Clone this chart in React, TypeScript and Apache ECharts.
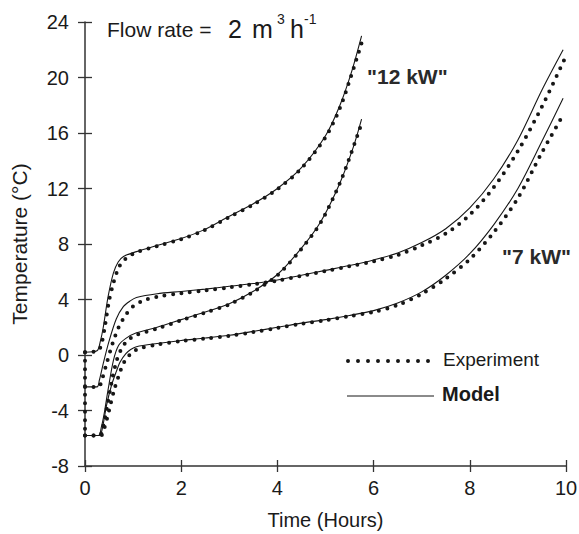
import React, { useEffect, useRef } from "react";
import * as echarts from "echarts";

// ---- data: [time (h), temperature (°C)] ----
const xTicks = [0, 2, 4, 6, 8, 10];
const yTicks = [-8, -4, 0, 4, 8, 12, 16, 20, 24];

const kw12UpperModel = [[0,0.2],[0.25,0.3],[0.32,1.0],[0.38,2.0],[0.48,4.2],[0.59,5.9],[0.69,6.7],[0.8,7.1],[1.07,7.45],[1.5,7.9],[2.0,8.4],[2.46,9.0],[3.0,10.0],[3.5,10.9],[4.0,12.0],[4.5,13.5],[5.0,15.8],[5.3,18.0],[5.55,20.5],[5.75,23.0]];
const kw12UpperExp = [[0,0.2],[0.27,0.3],[0.35,0.9],[0.42,2.2],[0.5,3.9],[0.6,5.3],[0.7,6.3],[0.8,6.8],[0.95,7.2],[1.1,7.45],[1.5,7.85],[2.0,8.35],[2.46,8.95],[3.0,9.95],[3.5,10.85],[4.0,11.95],[4.5,13.45],[5.0,15.7],[5.3,17.8],[5.55,20.3],[5.77,22.7]];

const kw12LowerModel = [[0,-5.8],[0.28,-5.8],[0.34,-5.2],[0.4,-4.2],[0.48,-2.5],[0.59,-0.4],[0.7,0.7],[0.85,1.2],[1.07,1.6],[1.5,2.0],[2.0,2.55],[2.5,3.1],[3.0,3.7],[3.5,4.6],[4.0,5.8],[4.5,7.7],[4.9,9.6],[5.3,12.4],[5.58,15.0],[5.75,17.0]];
const kw12LowerExp = [[0,-5.8],[0.3,-5.8],[0.38,-5.1],[0.45,-3.9],[0.55,-2.0],[0.65,-0.5],[0.75,0.4],[0.87,1.0],[1.07,1.45],[1.5,1.9],[2.0,2.5],[2.5,3.05],[3.0,3.65],[3.5,4.55],[4.0,5.75],[4.5,7.65],[4.9,9.55],[5.3,12.4],[5.58,15.0],[5.77,16.9]];

const kw7UpperModel = [[0,-2.3],[0.25,-2.3],[0.3,-1.8],[0.38,-0.6],[0.5,1.0],[0.65,2.6],[0.8,3.5],[0.94,3.9],[1.07,4.15],[1.5,4.42],[2.0,4.58],[2.5,4.75],[3.0,4.95],[3.5,5.15],[4.0,5.4],[4.5,5.75],[5.0,6.1],[5.5,6.45],[6.0,6.85],[6.5,7.35],[7.0,8.1],[7.5,9.1],[8.0,10.6],[8.5,12.7],[9.0,15.5],[9.5,19.1],[9.94,22.0]];
const kw7UpperExp = [[0,-2.3],[0.28,-2.3],[0.35,-1.8],[0.45,-0.6],[0.57,0.8],[0.7,2.0],[0.85,2.9],[1.0,3.5],[1.2,3.9],[1.5,4.2],[2.0,4.45],[2.5,4.65],[3.0,4.87],[3.5,5.1],[4.0,5.35],[4.5,5.7],[5.0,6.05],[5.5,6.4],[6.0,6.75],[6.5,7.2],[7.0,7.9],[7.5,8.75],[8.0,10.1],[8.5,12.1],[9.0,14.7],[9.5,17.9],[9.98,21.4]];

const kw7LowerModel = [[0,-5.8],[0.3,-5.8],[0.36,-5.3],[0.45,-3.6],[0.55,-2.2],[0.65,-1.2],[0.73,-0.5],[0.85,0.1],[0.95,0.4],[1.07,0.6],[1.5,0.83],[2.0,1.05],[2.5,1.22],[3.0,1.42],[3.5,1.7],[4.0,2.0],[4.5,2.3],[5.0,2.55],[5.5,2.85],[6.0,3.2],[6.5,3.75],[7.0,4.55],[7.5,5.75],[8.0,7.3],[8.5,9.4],[9.0,12.0],[9.5,15.4],[9.94,18.5]];
const kw7LowerExp = [[0,-5.8],[0.33,-5.8],[0.4,-5.3],[0.5,-4.0],[0.6,-2.6],[0.7,-1.5],[0.8,-0.6],[0.9,-0.1],[1.0,0.25],[1.15,0.5],[1.5,0.75],[2.0,1.0],[2.5,1.18],[3.0,1.38],[3.5,1.65],[4.0,1.95],[4.5,2.25],[5.0,2.5],[5.5,2.8],[6.0,3.1],[6.5,3.6],[7.0,4.4],[7.5,5.5],[8.0,6.9],[8.5,8.85],[9.0,11.3],[9.5,14.6],[9.94,17.3]];

const startDropExp = [[0,0.2],[0,-5.8]];

const FONT = "'Liberation Sans', Arial, sans-serif";
const INK = "#161616";

function expSeries(name: string, data: number[][], smooth = true) {
  return {
    name, type: "line", data, xAxisIndex: 0, yAxisIndex: 0,
    showSymbol: false, symbol: "none", smooth: smooth ? 0.3 : false,
    lineStyle: { color: INK, width: 4, type: [0, 8.5], cap: "round" },
    z: 3,
  };
}
function modelSeries(name: string, data: number[][]) {
  return {
    name, type: "line", data, xAxisIndex: 0, yAxisIndex: 0,
    showSymbol: false, symbol: "none", smooth: 0.3,
    lineStyle: { color: INK, width: 1.1 },
    z: 4,
  };
}

export default function App() {
  const ref = useRef<HTMLDivElement>(null);
  useEffect(() => {
    if (!ref.current) return;
    const chart = echarts.init(ref.current, null, { renderer: "svg" });
    const axisCommon = {
      type: "value",
      splitLine: { show: false },
    };
    const tickStyle = { color: "#333", width: 1.3 };
    chart.setOption({
      animation: false,
      backgroundColor: "#ffffff",
      grid: { left: 85, right: 13, top: 22, bottom: 68, containLabel: false, outerBoundsMode: "none" },
      xAxis: [
        {
          ...axisCommon, min: xTicks[0], max: xTicks[xTicks.length - 1], interval: 2,
          axisLine: { show: true, onZero: false, lineStyle: { color: "#333", width: 1.5 } },
          axisTick: { show: true, inside: false, length: 6, lineStyle: tickStyle },
          axisLabel: { color: "#1a1a1a", fontSize: 20, fontFamily: FONT, margin: 12 },
          name: "Time (Hours)", nameLocation: "middle", nameGap: 44,
          nameTextStyle: { color: "#1a1a1a", fontSize: 20, fontFamily: FONT },
        },
        {
          ...axisCommon, min: xTicks[0], max: xTicks[xTicks.length - 1], interval: 2,
          position: "bottom",
          axisLine: { show: false, onZero: false },
          axisTick: { show: true, inside: true, length: 6, lineStyle: tickStyle },
          axisLabel: { show: false },
        },
      ],
      yAxis: [
        {
          ...axisCommon, min: yTicks[0], max: yTicks[yTicks.length - 1], interval: 4,
          axisLine: { show: true, onZero: false, lineStyle: { color: "#333", width: 1.5 } },
          axisTick: { show: true, inside: false, length: 7, lineStyle: tickStyle },
          axisLabel: { color: "#1a1a1a", fontSize: 20, fontFamily: FONT, margin: 16 },
          name: "Temperature (°C)", nameLocation: "middle", nameGap: 55,
          nameTextStyle: { color: "#1a1a1a", fontSize: 21, fontFamily: FONT },
        },
        {
          ...axisCommon, min: yTicks[0], max: yTicks[yTicks.length - 1], interval: 4,
          position: "left",
          axisLine: { show: false, onZero: false },
          axisTick: { show: true, inside: true, length: 7, lineStyle: tickStyle },
          axisLabel: { show: false },
        },
      ],
      series: [
        expSeries("Experiment drop", startDropExp, false),
        expSeries("12 kW upper (experiment)", kw12UpperExp),
        modelSeries("12 kW upper (model)", kw12UpperModel),
        expSeries("12 kW lower (experiment)", kw12LowerExp),
        modelSeries("12 kW lower (model)", kw12LowerModel),
        expSeries("7 kW upper (experiment)", kw7UpperExp),
        modelSeries("7 kW upper (model)", kw7UpperModel),
        expSeries("7 kW lower (experiment)", kw7LowerExp),
        modelSeries("7 kW lower (model)", kw7LowerModel),
      ],
      graphic: [
        { type: "text", left: 107, top: 19, style: { text: "Flow rate =", fontSize: 21, fontFamily: FONT, fill: "#1a1a1a" } },
        { type: "text", left: 228, top: 16, style: { text: "2", fontSize: 25, fontFamily: FONT, fill: "#1a1a1a" } },
        { type: "text", left: 252, top: 16, style: { text: "m", fontSize: 25, fontFamily: FONT, fill: "#1a1a1a" } },
        { type: "text", left: 277, top: 12, style: { text: "3", fontSize: 14, fontFamily: FONT, fill: "#1a1a1a" } },
        { type: "text", left: 290, top: 16, style: { text: "h", fontSize: 25, fontFamily: FONT, fill: "#1a1a1a" } },
        { type: "text", left: 304, top: 12, style: { text: "-1", fontSize: 14, fontFamily: FONT, fill: "#1a1a1a" } },
        { type: "text", left: 367, top: 66, style: { text: "\"12 kW\"", fontSize: 21, fontWeight: "bold", fontFamily: FONT, fill: "#2a2a2a" } },
        { type: "text", left: 502, top: 246, style: { text: "\"7 kW\"", fontSize: 21, fontWeight: "bold", fontFamily: FONT, fill: "#2a2a2a" } },
        { type: "line", shape: { x1: 348, y1: 361, x2: 434, y2: 361 }, style: { stroke: INK, lineWidth: 4, lineDash: [0, 10], lineCap: "round" } },
        { type: "text", left: 443, top: 350, style: { text: "Experiment", fontSize: 19, fontFamily: FONT, fill: "#1a1a1a" } },
        { type: "line", shape: { x1: 347, y1: 396, x2: 434, y2: 396 }, style: { stroke: INK, lineWidth: 1 } },
        { type: "text", left: 442, top: 384, style: { text: "Model", fontSize: 20, fontWeight: "bold", fontFamily: FONT, fill: "#1a1a1a" } },
      ],
    });
    return () => chart.dispose();
  }, []);
  return <div ref={ref} style={{ position: "absolute", left: 0, top: 0, width: 579, height: 534 }} />;
}
